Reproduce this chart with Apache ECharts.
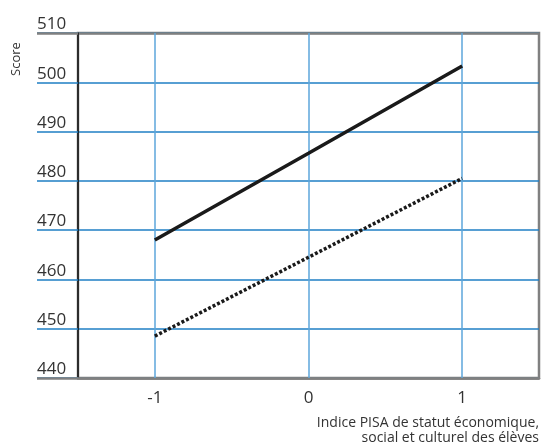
<!DOCTYPE html>
<html>
<head>
<meta charset="utf-8">
<script src="https://cdn.jsdelivr.net/npm/echarts@6/dist/echarts.min.js"></script>
<style>
    html, body { margin: 0; padding: 0; background: #fff; }
    #chart { width: 542px; height: 448px; }
</style>
</head>
<body>
<div id="chart"></div>
<script>
// indice PISA (catégories)
const categories = ['-1', '0', '1']
// score des élèves (trait plein / pointillé)
const solidScores = [468, 485.6, 503.3]
const dottedScores = [448.5, 464.5, 480.5]
const yMin = 440
const yMax = 510
const yStep = 10
// titre de l'axe horizontal, une ligne par entrée
const xNameLines = ['Indice PISA de statut économique,', 'social et culturel des élèves']

const fontFamily = '"Open Sans", "DejaVu Sans", sans-serif'
const gridBlue = '#1f7fc4'
const lightBlue = '#5ea6dc'
const borderGray = '#808080'

const chart = echarts.init(document.getElementById('chart'))

chart.setOption({
    animation: false,
    textStyle: { fontFamily },
    // chaque ligne calée à droite, en bas du graphique
    graphic: xNameLines.map((line, i) => ({
        type: 'text',
        right: 3,
        top: 416 + i * 15,
        style: {
            text: line,
            fill: '#333',
            font: '14px ' + fontFamily
        }
    })),
    grid: {
        left: 78,
        right: 3,
        top: 33,
        bottom: 70,
        outerBoundsMode: 'none',
        containLabel: false,
        show: true,
        borderColor: borderGray,
        borderWidth: 2.5
    },
    xAxis: {
        type: 'category',
        data: categories,
        boundaryGap: true,
        axisLine: { show: true, lineStyle: { color: borderGray, width: 2.5 } },
        axisTick: { // lignes verticales bleues
            show: true,
            alignWithLabel: true,
            inside: true,
            length: 345,
            lineStyle: { color: lightBlue, width: 1.5 }
        },
        axisLabel: { color: '#333', fontSize: 17, margin: 12 },
        splitLine: { show: false }
    },
    yAxis: [{
        type: 'value',
        min: yMin,
        max: yMax,
        interval: yStep,
        axisLine: { show: true, lineStyle: { color: '#111', width: 1.5 } },
        axisTick: { show: true, length: 41, lineStyle: { color: gridBlue, width: 1.5 } },
        axisLabel: {
            color: '#333',
            fontSize: 17,
            align: 'left',
            verticalAlign: 'bottom',
            margin: 41
        },
        splitLine: { show: true, lineStyle: { color: gridBlue, width: 1.5 } }
    }, {
        // prolongement gris du cadre (haut/bas)
        type: 'value',
        min: yMin,
        max: yMax,
        interval: yMax - yMin,
        position: 'left',
        axisLine: { show: false },
        axisTick: { show: true, length: 41, lineStyle: { color: borderGray, width: 2.5 } },
        axisLabel: { show: false },
        splitLine: { show: true, lineStyle: { color: borderGray, width: 2.5 } }
    }, {
        // titre de l'axe vertical
        type: 'value',
        min: yMin,
        max: yMax,
        position: 'left',
        offset: 62,
        axisLine: { show: false },
        axisTick: { show: false },
        axisLabel: { show: false },
        splitLine: { show: false },
        name: 'Score',
        nameLocation: 'end',
        nameRotate: 90,
        nameGap: -26,
        nameTextStyle: { color: '#333', fontSize: 13, align: 'center', verticalAlign: 'middle' }
    }],
    series: [{
        type: 'line',
        data: solidScores,
        symbol: 'none',
        lineStyle: { color: '#1a1a1a', width: 3.5, type: 'solid' }
    }, {
        type: 'line',
        data: dottedScores,
        symbol: 'none',
        lineStyle: { color: '#1a1a1a', width: 3.5, type: [3, 2] }
    }]
})
</script>
</body>
</html>
